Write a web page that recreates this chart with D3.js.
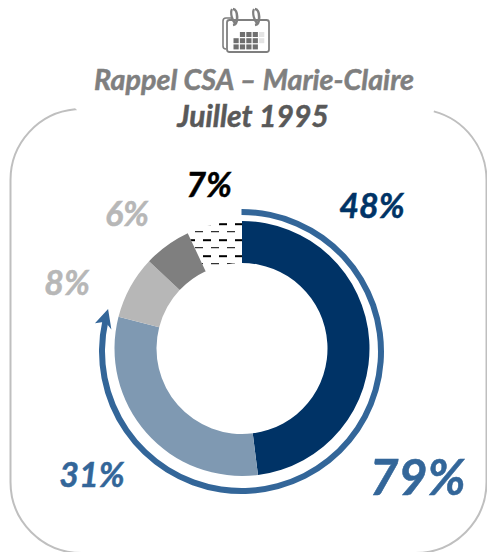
<!DOCTYPE html>
<html lang="fr">
<head>
    <meta charset="UTF-8">
    <title>Rappel CSA - Marie-Claire</title>
    <script src="https://d3js.org/d3.v7.min.js"></script>
    <style>
        html, body { margin: 0; padding: 0; background: #fff; }
        svg { display: block; }
        text { font-family: Lato, "Open Sans", sans-serif; font-weight: 700; font-style: italic; stroke-width: 0.5; paint-order: stroke; }
    </style>
</head>
<body>
    <div id="chart-container"></div>
    <script>
        // values
        const categories = ["a", "b", "c", "d", "e"];
        const shares = [48, 31, 8, 6, 7];
        const shareLabels = ["48%", "31%", "8%", "6%", "7%"];
        const cumulative = 79;
        const cumulativeLabel = "79%";
        const titleLines = ["Rappel CSA \u2013 Marie-Claire", "Juillet 1995"];

        const width = 487;
        const height = 552;
        const center = {x: 242, y: 348.5};
        const arcCenter = {x: 241.5, y: 351.5};
        const outerR = 127.5;
        const innerR = 85.5;
        const ringR = 139.5;

        const color = d3.scaleOrdinal()
            .domain(categories)
            .range(["#003366", "#7f99b2", "#b7b7b7", "#7f7f7f", "url(#dashes)"]);

        const labelColor = d3.scaleOrdinal()
            .domain(categories)
            .range(["#003366", "#336699", "#b7b7b7", "#b7b7b7", "#000000"]);

        // where the text labels sit [x centre, baseline, font size]
        const labelPos = [[372, 218, 34], [92, 487, 34], [67, 295, 34], [127, 226, 34], [209, 197, 34]];

        const svg = d3.select("#chart-container")
            .append("svg")
            .attr("width", width)
            .attr("height", height);

        const pattern = svg.append("defs").append("pattern")
            .attr("id", "dashes")
            .attr("patternUnits", "userSpaceOnUse")
            .attr("x", 193).attr("y", 219.7)
            .attr("width", 16).attr("height", 16);
        pattern.append("rect").attr("x", 8).attr("y", 7).attr("width", 8).attr("height", 2).attr("fill", "#000");
        pattern.append("rect").attr("x", 0).attr("y", 15).attr("width", 8).attr("height", 2).attr("fill", "#000");

        // frame, open at the top behind the title, bottom edge runs off the page
        const frameR = 71;
        const frame = d3.path();
        frame.moveTo(75, 109);
        frame.arc(81.5, 180, frameR, -1.66, Math.PI, true);
        frame.lineTo(10.5, 482);
        frame.arcTo(10.5, 553, 81, 553, frameR);
        frame.lineTo(415, 553);
        frame.arcTo(486.5, 553, 486.5, 482, frameR);
        frame.lineTo(486.5, 180);
        frame.arc(415.5, 180, frameR, 0, -1.31, true);
        svg.append("path")
            .attr("d", frame.toString())
            .attr("fill", "none")
            .attr("stroke", "#bfbfbf")
            .attr("stroke-width", 2);

        // calendar icon
        const icon = svg.append("g").attr("fill", "none").attr("stroke", "#7f7f7f");
        icon.append("path").attr("stroke-width", 1.6).attr("d", "M232,18 H226 Q223,18 223,21 V46 Q223,49 226,49");
        icon.append("rect").attr("x", 227).attr("y", 20).attr("width", 42).attr("height", 32).attr("rx", 2.5).attr("stroke-width", 1.8);
        icon.append("path").attr("stroke-width", 2.6).attr("d", "M233,25 C239,24 238,9 233,9 M255,25 C261,24 260,9 255,9");
        icon.append("path").attr("stroke-width", 2.2).attr("d", "M232,9 C230,13 232,21 236,24 M254,9 C252,13 254,21 258,24");
        const gridCols = d3.range(5);
        const gridRows = d3.range(3);
        gridRows.forEach(r => gridCols.forEach(c => {
            if (r === 0 && c === 0) return;
            if (r === 2 && c === 4) return;
            icon.append("rect")
                .attr("x", 233.5 + c * 6.4).attr("y", 32 + r * 6.2)
                .attr("width", 5.2).attr("height", 5)
                .attr("stroke", "none")
                .attr("fill", c === 4 ? "#e4e4e4" : "#6f6f6f");
        }));

        // title
        svg.append("text").attr("x", 254).attr("y", 90)
            .attr("text-anchor", "middle").attr("font-size", 28.7)
            .attr("fill", "#7f7f7f").attr("stroke", "#7f7f7f")
            .text(titleLines[0]);
        svg.append("text").attr("x", 253).attr("y", 127)
            .attr("text-anchor", "middle").attr("font-size", 30)
            .attr("fill", "#595959").attr("stroke", "#595959")
            .text(titleLines[1]);

        // donut
        const pie = d3.pie().sort(null).value(d => d.value);
        const arc = d3.arc().innerRadius(innerR).outerRadius(outerR);
        const slices = pie(categories.map((c, i) => ({key: c, value: shares[i]})));

        svg.append("g")
            .attr("transform", `translate(${center.x},${center.y})`)
            .selectAll("path")
            .data(slices)
            .enter()
            .append("path")
            .attr("d", arc)
            .attr("fill", d => color(d.data.key));

        // cumulative arrow around the first two slices
        const angle = d3.scaleLinear().domain([0, 100]).range([0, 2 * Math.PI]);
        const ring = svg.append("g").attr("transform", `translate(${arcCenter.x},${arcCenter.y})`);
        const endAngle = angle(cumulative);
        ring.append("path")
            .attr("d", d3.arc().innerRadius(ringR - 3).outerRadius(ringR + 3).startAngle(0).endAngle(endAngle - 0.03))
            .attr("fill", "#336699");
        const tip = (endAngle * 180 / Math.PI);
        ring.append("path")
            .attr("transform", `rotate(${tip}) translate(0,${-ringR})`)
            .attr("d", "M-9,-9.5 L8,-0.3 L-11,8 L-5,0 Z")
            .attr("fill", "#336699");

        // labels
        svg.append("g")
            .selectAll("text")
            .data(slices)
            .enter()
            .append("text")
            .attr("x", (d, i) => labelPos[i][0])
            .attr("y", (d, i) => labelPos[i][1])
            .attr("font-size", (d, i) => labelPos[i][2])
            .attr("text-anchor", "middle")
            .attr("fill", d => labelColor(d.data.key))
            .attr("stroke", d => labelColor(d.data.key))
            .text((d, i) => shareLabels[i]);

        svg.append("text")
            .attr("x", 417.5).attr("y", 495)
            .attr("text-anchor", "middle")
            .attr("font-size", 50)
            .attr("fill", "#336699")
            .attr("stroke", "#336699")
            .text(cumulativeLabel);
    </script>
</body>
</html>
